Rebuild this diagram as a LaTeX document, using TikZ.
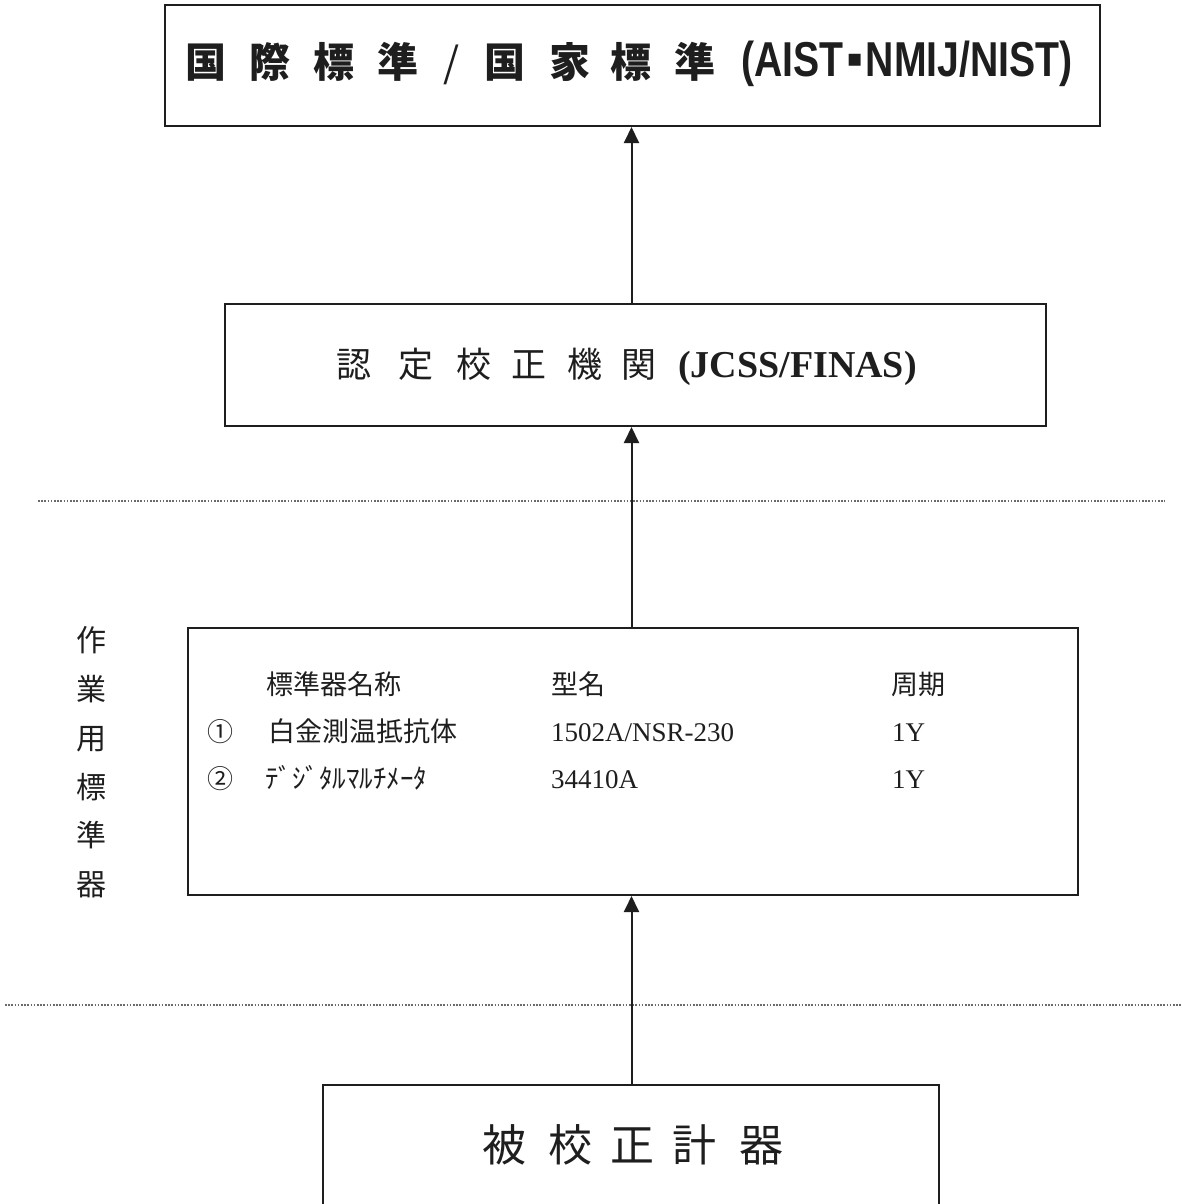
\documentclass[tikz,border=0pt]{standalone}
\usepackage{fontspec}
\setmainfont{Liberation Serif}
\newfontfamily\jp{Noto Sans CJK JP}
\newfontfamily\gothlat[FakeStretch=0.8]{Liberation Sans}
\newfontfamily\dv{DejaVu Sans}
\usetikzlibrary{arrows.meta}
\definecolor{ink}{HTML}{1E1E1E}
\definecolor{dotc}{HTML}{6A6A6A}
\newcommand\fs[1]{\fontsize{#1pt}{#1pt}\selectfont}
\tikzset{
  box/.style={draw=ink, line width=2pt, inner sep=0pt, fill=none},
  txt/.style={inner sep=0pt, text=ink, anchor=base},
  arr/.style={draw=ink, line width=2pt, -{Triangle[length=16pt,width=15pt]}},
  sep/.style={draw=dotc, line width=1.6pt, dash pattern=on 1.6pt off 1.6pt},
}
\begin{document}
\begin{tikzpicture}[x=1pt,y=-1pt]
\useasboundingbox (0,0) rectangle (1181,1204);
\fill[white] (0,0) rectangle (1181,1204);

% boxes
\node[box, minimum width=935pt, minimum height=121pt] (topb) at (632.5,65.5) {};
\node[box, minimum width=821pt, minimum height=122pt] (b2) at (635.5,365) {};
\node[box, minimum width=890pt, minimum height=267pt] (b3) at (633,761.5) {};
\node[box, minimum width=616pt, minimum height=145pt] (bot) at (631,1157.5) {};

% separators
\draw[sep] (38,501) -- (1165,501);
\draw[sep] (5,1005) -- (1181,1005);

% arrows
\coordinate (ax) at (631.5,0);
\draw[arr] (bot.north -| ax) -- (b3.south -| ax);
\draw[arr] (b3.north -| ax) -- (b2.south -| ax);
\draw[arr] (b2.north -| ax) -- (topb.south -| ax);

% top title
\foreach \x/\c [count=\i] in {205.5/国,269.5/際,334/標,397.5/準,504.5/国,570/家,631/標,695/準}
  \node[txt, font=\jp\bfseries\fs{41}] (t\i) at (\x,78) {\c};
\node[txt, font=\jp\fs{41}] (tsl) at (452,78) {/};
\node[txt, anchor=base west] (tlat) at (741,77)
  {\gothlat\bfseries\fs{49}(AIST\hspace{3pt}\raisebox{10pt}{\dv\fs{24}▪}\hspace{3pt}NMIJ/NIST)};

% second box
\foreach \x/\c [count=\i] in {353.5/認,415.5/定,473.5/校,528.5/正,585/機,638.5/関}
  \node[txt, font=\jp\fs{35}] (s\i) at (\x,377) {\c};
\node[txt, anchor=base west] (slat) at (678,377) {\bfseries\fs{38}(JCSS/FINAS)};

% third box
\node[txt, anchor=base west, font=\jp\fs{27}] (h1) at (266,694) {標準器名称};
\node[txt, anchor=base west, font=\jp\fs{27}] (h2) at (551,694) {型名};
\node[txt, anchor=base west, font=\jp\fs{27}] (h3) at (891,694) {周期};
\node[txt, font=\jp\fs{26}] (n1) at (220.5,741) {①};
\node[txt, anchor=base west, font=\jp\fs{27}] (r1a) at (268,741) {白金測温抵抗体};
\node[txt, anchor=base west, font=\fs{27}] (r1b) at (551,741) {1502A/NSR-230};
\node[txt, anchor=base west, font=\fs{27}] (r1c) at (892,741) {1Y};
\node[txt, font=\jp\fs{26}] (n2) at (220.5,788) {②};
\node[txt, anchor=base west, font=\jp\fs{27}] (r2a) at (265,788) {ﾃﾞｼﾞﾀﾙﾏﾙﾁﾒｰﾀ};
\node[txt, anchor=base west, font=\fs{27}] (r2b) at (551,788) {34410A};
\node[txt, anchor=base west, font=\fs{27}] (r2c) at (892,788) {1Y};

% vertical label
\foreach \y/\c [count=\i] in {640/作,689/業,738/用,787/標,835/準,884/器}
  \node[txt, font=\jp\fs{30}] (v\i) at (91,\y+11.4) {\c};

% bottom box text
\foreach \x/\c [count=\i] in {504/被,570/校,632/正,694.5/計,761/器}
  \node[txt, font=\jp\fs{44}] (b\i) at (\x,1161) {\c};
\end{tikzpicture}
\end{document}
